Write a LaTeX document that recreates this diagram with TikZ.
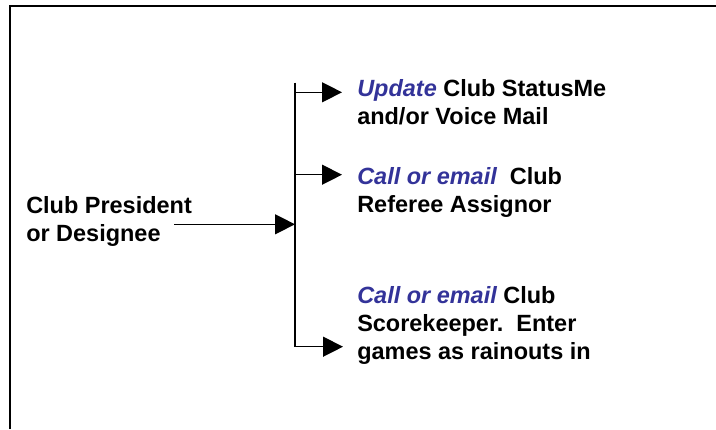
\documentclass[tikz,border=0pt]{standalone}
\usepackage{fontspec}
\setmainfont{Liberation Sans}
\usetikzlibrary{arrows.meta}
\definecolor{actblue}{HTML}{333399}
\tikzset{
  txt/.style={inner sep=0pt, anchor=base west, align=left,
    font=\fontsize{17.6pt}{20.8pt}\selectfont\bfseries},
  conn/.style={line width=1pt, -{Triangle[length=15pt,width=15pt]}},
  bus/.style={line width=1pt},
  frame/.style={line width=1.6pt}
}
\newcommand{\act}[1]{{\color{actblue}\itshape #1}}
\begin{document}
\begin{tikzpicture}[x=0.75pt,y=-0.75pt]
\useasboundingbox (0,0) rectangle (716,429);
% frame (left and top edges visible)
\draw[frame] (10,429) -- (10,6) -- (716,6);
% texts
\node[txt] (src) at (26,241) {Club President\\or Designee};
\node[txt] (t1) at (357,124.3) {\act{Update} Club StatusMe\\and/or Voice Mail};
\node[txt] (t2) at (357,212.7) {\act{Call or email}\ \ Club\\Referee Assignor};
\node[txt] (t3) at (357,359) {\act{Call or email} Club\\Scorekeeper.\ \ Enter\\games as rainouts in};
% bus coordinates
\coordinate (btop) at (295,82.7);
\coordinate (bbot) at (295,346.7);
\coordinate (j1) at (295,92.3);
\coordinate (j2) at (295,174.7);
\coordinate (jm) at (295,224.3);
\coordinate (s0) at (174,224.3);
\coordinate (e1) at (342,92.3);
\coordinate (e2) at (342,174.7);
\coordinate (e3) at (343,346.7);
% connectors
\draw[bus] (btop) -- (bbot);
\draw[conn] (s0) -- (jm);
\draw[conn] (j1) -- (e1);
\draw[conn] (j2) -- (e2);
\draw[conn] (bbot) -- (e3);
\end{tikzpicture}
\end{document}
